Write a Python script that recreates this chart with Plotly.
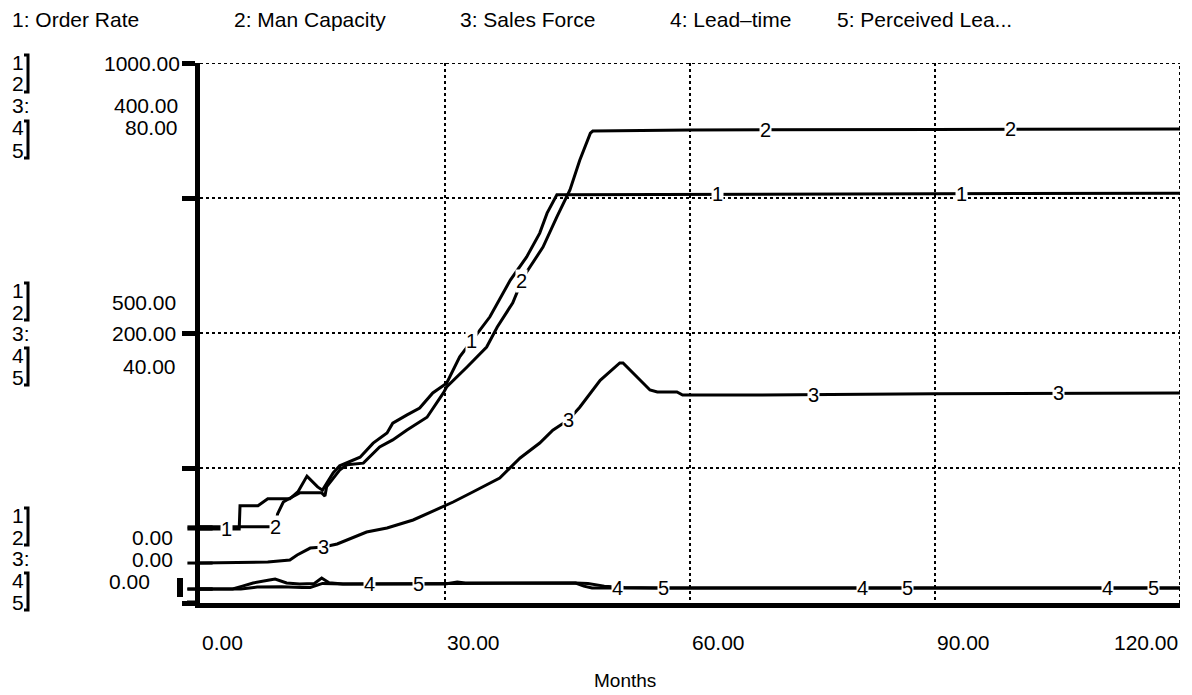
import numpy as np
import plotly.graph_objects as go

# ---------------- data ----------------
SERIES_NAMES = ["Order Rate", "Man Capacity", "Sales Force", "Lead\u2013time", "Perceived Lea..."]

order_rate_t = [0, 4.8, 4.9, 7.1, 8.3, 11.0, 12.0, 13.1, 14.4, 15.0, 16.3, 17.1, 19.6, 21.2, 22.9,
                23.6, 25.3, 26.9, 28.5, 30.2, 31.8, 34.3, 35.5, 38.0, 40.0, 41.6, 42.5, 43.7, 60, 90, 120]
order_rate = [137, 137, 180, 180, 193, 193, 206, 235, 215, 209, 241, 254, 270, 296, 315,
              333, 348, 361, 389, 407, 456, 506, 530, 598, 641, 685, 722, 756, 757, 758, 759]

man_capacity_t = [0, 9.2, 9.5, 10.2, 11.0, 12.2, 14.9, 15.3, 15.5, 17.1, 18.0, 20.0, 22.0, 23.6, 25.3,
                  27.8, 29.8, 30.2, 32.7, 35.1, 36.4, 38.3, 39.6, 42.0, 43.7, 45.3, 46.5, 47.8, 48.1,
                  60, 90, 120]
man_capacity = [141, 141, 165, 187, 194, 204, 204, 198, 215, 246, 256, 259, 289, 302, 320,
                344, 389, 400, 437, 474, 511, 556, 604, 659, 715, 765, 820, 870, 874,
                876, 877, 878]

sales_force_t = [0, 8.3, 11.0, 11.9, 13.5, 15.1, 16.8, 18.7, 20.4, 22.9, 26.1, 29.4, 31.0, 33.4, 36.7,
                 39.2, 41.6, 43.2, 45.1, 46.5, 49.0, 51.4, 51.8, 55.1, 56.0, 58.4, 59.1, 64.9, 90, 120]
sales_force = [29.6, 30.4, 31.9, 35.6, 40.7, 41.5, 43.7, 48.1, 52.6, 55.6, 61.5, 70.4, 74.8, 82.2, 92.6,
               107.4, 118.5, 128, 135.6, 145, 165, 177.8, 177.8, 157.8, 156.3, 156.3, 154, 154, 155, 155.5]

lead_time_t = [0, 4.0, 5.2, 6.5, 8.5, 9.2, 10.6, 12.2, 14.0, 14.9, 15.8, 17.5, 30.0, 31.5, 32.5,
               46.0, 47.0, 48.0, 120]
lead_time = [2.07, 2.07, 2.5, 2.96, 3.41, 3.56, 2.96, 2.81, 2.9, 3.7, 3.0, 2.81, 2.81, 3.1, 2.96,
             2.96, 2.5, 2.22, 2.22]

perceived_t = [0, 5.0, 7.0, 10.0, 12.5, 13.5, 15.0, 17.5, 46.0, 47.5, 49.5, 52.0, 56.0, 120]
perceived = [2.07, 2.07, 2.37, 2.4, 2.3, 2.3, 2.9, 2.81, 2.96, 2.9, 2.5, 2.3, 2.22, 2.22]

# time points where each series' number label sits on its curve
label_t_1 = [3.3, 33.3, 63.4, 93.3]
label_t_2 = [9.2, 39.4, 69.2, 99.2]
label_t_3 = [15.1, 45.1, 75.1, 105.1]
label_t_4 = [20.8, 51.1, 81.1, 111.1]
label_t_5 = [26.7, 56.7, 86.6, 116.7]

# scales
scale_12 = [0, 500, 1000]
scale_3 = [0, 200, 400]
scale_45 = [0, 40, 80]

x_ticks = [0, 30, 60, 90, 120]
x_tick_labels = ["0.00", "30.00", "60.00", "90.00", "120.00"]
x_title = "Months"

# ---------------- layout helpers ----------------
OFF = 8  # page body margin of the html page
W, H = 1192 - OFF, 695 - OFF
# plot area in page pixels of the reference
PL, PR, PT, PB = 200, 1180, 63, 603
FONT = "Liberation Sans"


def px_x(px):
    return (px - PL) / (PR - PL)


def px_y(py):
    return (PB - py) / (PB - PT)


series = [
    ("1", order_rate_t, order_rate, "y", label_t_1),
    ("2", man_capacity_t, man_capacity, "y", label_t_2),
    ("3", sales_force_t, sales_force, "y2", label_t_3),
    ("4", lead_time_t, lead_time, "y3", label_t_4),
    ("5", perceived_t, perceived, "y3", label_t_5),
]

fig = go.Figure()
for num, t, v, yax, _ in series:
    fig.add_trace(go.Scatter(x=t, y=v, mode="lines", yaxis=yax,
                             line=dict(color="black", width=3), showlegend=False,
                             hoverinfo="skip"))
    # initial value tick on the axis
    fig.add_trace(go.Scatter(x=[t[0]], y=[v[0]], mode="markers", yaxis=yax, cliponaxis=False,
                             marker=dict(symbol="line-ew", size=18, color="black",
                                         line=dict(color="black", width=3)),
                             showlegend=False, hoverinfo="skip"))

ann = []
# number labels on curves
for num, t, v, yax, lts in series:
    for lt in lts:
        yv = float(np.interp(lt, t, v))
        ann.append(dict(x=lt, y=yv, xref="x", yref=yax, text=num, showarrow=False,
                        font=dict(family=FONT, size=20, color="black"),
                        bgcolor="white", borderpad=0, xanchor="center", yanchor="middle"))

# top legend
legend_x = [10, 232, 458, 668, 835]
for i, (name, lx) in enumerate(zip(SERIES_NAMES, legend_x)):
    ann.append(dict(x=px_x(lx), y=px_y(20), xref="paper", yref="paper", text=f"{i+1}: {name}",
                    showarrow=False, xanchor="left", yanchor="middle",
                    font=dict(family=FONT, size=21, color="black")))

# left scale block
groups = [
    ([62, 84, 106, 128, 150], [63, 106, 128], [182, 180, 180], 2),
    ([290, 312, 333, 355, 377], [302, 333, 366], [178, 178, 178], 1),
    ([515, 537, 558, 580, 602], [537, 559, 581], [175, 175, 152], 0),
]
for rows, vys, rxs, gi in groups:
    for r, lab in zip(rows, ["1", "2", "3:", "4", "5"]):
        ann.append(dict(x=px_x(10), y=px_y(r), xref="paper", yref="paper", text=lab,
                        showarrow=False, xanchor="left", yanchor="middle",
                        font=dict(family=FONT, size=21, color="black")))
    vals = [scale_12[gi], scale_3[gi], scale_45[gi]]
    for val, vy, rx in zip(vals, vys, rxs):
        ann.append(dict(x=px_x(rx), y=px_y(vy), xref="paper", yref="paper", text=f"{val:.2f}",
                        showarrow=False, xanchor="right", yanchor="middle",
                        font=dict(family=FONT, size=21, color="black")))

# x tick labels
for xt, xl in zip(x_ticks, x_tick_labels):
    ann.append(dict(x=xt, y=px_y(642), xref="x", yref="paper", text=xl, showarrow=False,
                    xanchor="right" if xt == x_ticks[-1] else "left", yanchor="middle",
                    font=dict(family=FONT, size=21, color="black")))
ann.append(dict(x=px_x(625), y=px_y(680), xref="paper", yref="paper", text=x_title,
                showarrow=False, xanchor="center", yanchor="middle",
                font=dict(family=FONT, size=19, color="black")))

shapes = []
# brackets in the left scale block
for rows, _, _, _ in groups:
    for a, b in [(rows[0], rows[1]), (rows[3], rows[4])]:
        y0, y1 = a - 7, b + 8
        path = (f"M {px_x(24)},{px_y(y0)} L {px_x(28)},{px_y(y0)} L {px_x(28)},{px_y(y1)} "
                f"L {px_x(24)},{px_y(y1)}")
        shapes.append(dict(type="path", xref="paper", yref="paper", path=path,
                           line=dict(color="black", width=3)))
# small bar left of the axis near the bottom
shapes.append(dict(type="rect", xref="paper", yref="paper", x0=px_x(177), x1=px_x(183),
                   y0=px_y(597), y1=px_y(578), fillcolor="black", line=dict(width=0)))
# bottom axis extension to the left
shapes.append(dict(type="line", xref="paper", yref="paper", x0=px_x(187), x1=0,
                   y0=0, y1=0, line=dict(color="black", width=5)))
# top and right border grid lines (dotted like the grid)
shapes.append(dict(type="line", xref="paper", yref="y", x0=0, x1=1, y0=1000, y1=1000,
                   line=dict(color="black", width=2, dash="dot")))
shapes.append(dict(type="line", xref="x", yref="paper", x0=120, x1=120, y0=0, y1=1,
                   line=dict(color="black", width=2, dash="dot")))

fig.update_layout(
    width=W, height=H, autosize=False,
    margin=dict(l=PL - OFF, r=1192 - PR, t=PT - OFF, b=695 - PB),
    paper_bgcolor="white", plot_bgcolor="white",
    font=dict(family=FONT, color="black"),
    annotations=ann, shapes=shapes,
    xaxis=dict(range=[0, 120], tickvals=x_ticks, showticklabels=False, ticks="",
               showgrid=True, gridcolor="black", griddash="dot", gridwidth=2,
               showline=True, linecolor="black", linewidth=5, zeroline=False, fixedrange=True),
    yaxis=dict(range=[0, 1000], tickvals=[0, 250, 500, 750, 1000], showticklabels=False,
               ticks="outside", ticklen=13, tickwidth=5, tickcolor="black",
               showgrid=True, gridcolor="black", griddash="dot", gridwidth=2,
               showline=True, linecolor="black", linewidth=5, zeroline=False, fixedrange=True),
    yaxis2=dict(range=[0, 400], overlaying="y", visible=False, fixedrange=True),
    yaxis3=dict(range=[0, 80], overlaying="y", visible=False, fixedrange=True),
)

fig.write_html("out.html")
